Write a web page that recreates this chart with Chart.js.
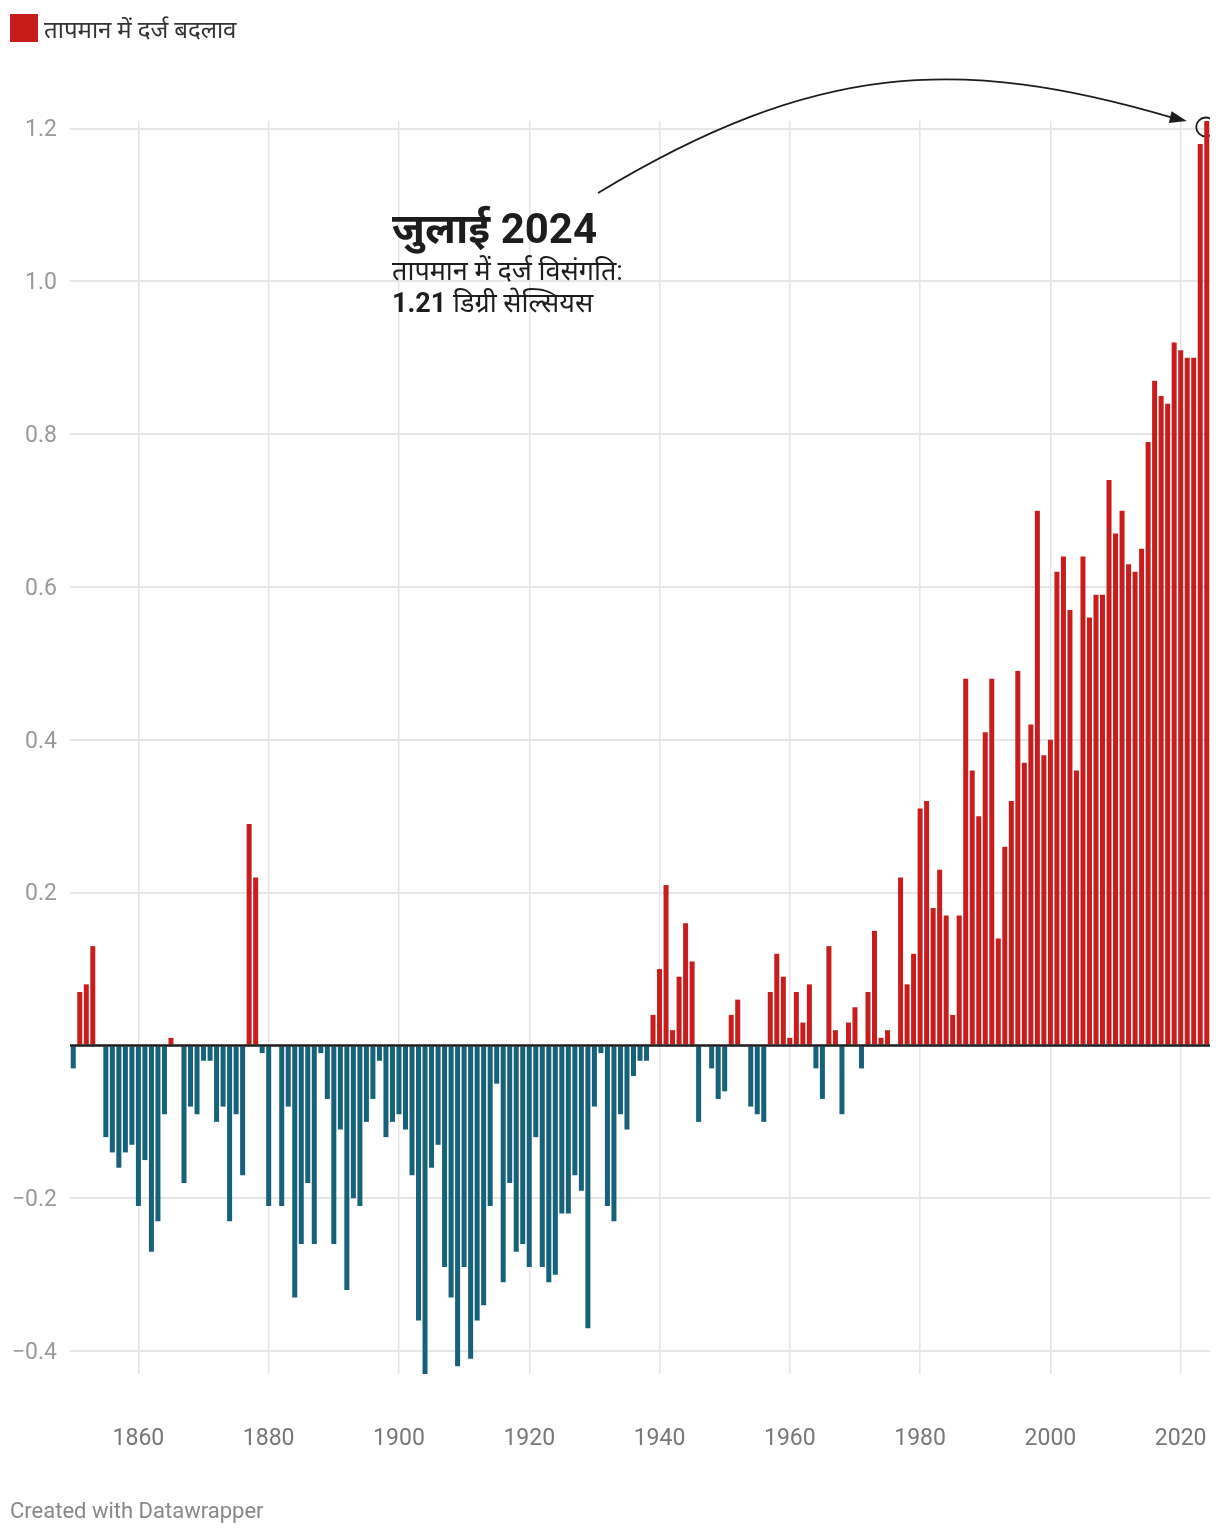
<!DOCTYPE html>
<html>
<head>
<meta charset="utf-8">
<script src="https://cdn.jsdelivr.net/npm/chart.js@4.4.1/dist/chart.umd.min.js"></script>
<style>
  html, body { margin: 0; padding: 0; background: #fff; }
  body {
    width: 1220px; height: 1536px; position: relative; overflow: hidden;
    font-family: Roboto, "Noto Sans", sans-serif;
  }
  #chart { position: absolute; left: 0; top: 0; }
  .legend { position: absolute; left: 10px; top: 14px; height: 28px; display: flex; align-items: center; font-size: 24px; color: #333; }
  .legend .swatch { width: 28px; height: 28px; background: #c71e1d; margin-right: 6px; }
  .note { position: absolute; left: 392px; color: #1d1d1d; white-space: nowrap; }
  .note.title { top: 208px; font-size: 42px; line-height: 42px; font-weight: 700; }
  .note.sub { font-size: 27px; line-height: 27px; }
  .footer { position: absolute; left: 10px; top: 1500px; font-size: 22px; line-height: 22px; color: #888; }
</style>
</head>
<body>
<canvas id="chart" width="1220" height="1536"></canvas>

<div class="legend"><span class="swatch"></span>तापमान में दर्ज बदलाव</div>
<div class="note title">जुलाई 2024</div>
<div class="note sub" style="top:258px">तापमान में दर्ज विसंगति:</div>
<div class="note sub" style="top:290px"><b>1.21</b> डिग्री सेल्सियस</div>
<div class="footer">Created with Datawrapper</div>

<script>
// July temperature anomaly (°C), one value per year starting 1850
const firstYear = 1850;
const anomalies = [
  -0.03, 0.07, 0.08, 0.13, 0, -0.12, -0.14, -0.16, -0.14, -0.13,      // 1850s
  -0.21, -0.15, -0.27, -0.23, -0.09, 0.01, 0, -0.18, -0.08, -0.09,     // 1860s
  -0.02, -0.02, -0.10, -0.08, -0.23, -0.09, -0.17, 0.29, 0.22, -0.01,  // 1870s
  -0.21, 0, -0.21, -0.08, -0.33, -0.26, -0.18, -0.26, -0.01, -0.07,    // 1880s
  -0.26, -0.11, -0.32, -0.20, -0.21, -0.10, -0.07, -0.02, -0.12, -0.10, // 1890s
  -0.09, -0.11, -0.17, -0.36, -0.43, -0.16, -0.13, -0.29, -0.33, -0.42, // 1900s
  -0.29, -0.41, -0.36, -0.34, -0.21, -0.05, -0.31, -0.18, -0.27, -0.26, // 1910s
  -0.29, -0.12, -0.29, -0.31, -0.30, -0.22, -0.22, -0.17, -0.19, -0.37, // 1920s
  -0.08, -0.01, -0.21, -0.23, -0.09, -0.11, -0.04, -0.02, -0.02, 0.04,  // 1930s
  0.10, 0.21, 0.02, 0.09, 0.16, 0.11, -0.10, 0, -0.03, -0.07,          // 1940s
  -0.06, 0.04, 0.06, 0, -0.08, -0.09, -0.10, 0.07, 0.12, 0.09,         // 1950s
  0.01, 0.07, 0.03, 0.08, -0.03, -0.07, 0.13, 0.02, -0.09, 0.03,       // 1960s
  0.05, -0.03, 0.07, 0.15, 0.01, 0.02, 0, 0.22, 0.08, 0.12,            // 1970s
  0.31, 0.32, 0.18, 0.23, 0.17, 0.04, 0.17, 0.48, 0.36, 0.30,          // 1980s
  0.41, 0.48, 0.14, 0.26, 0.32, 0.49, 0.37, 0.42, 0.70, 0.38,          // 1990s
  0.40, 0.62, 0.64, 0.57, 0.36, 0.64, 0.56, 0.59, 0.59, 0.74,          // 2000s
  0.67, 0.70, 0.63, 0.62, 0.65, 0.79, 0.87, 0.85, 0.84, 0.92,          // 2010s
  0.91, 0.90, 0.90, 1.18, 1.21                                         // 2020s
];
const years = anomalies.map((v, i) => firstYear + i);

const xTickYears = [1860, 1880, 1900, 1920, 1940, 1960, 1980, 2000, 2020];
const yTickValues = [-0.4, -0.2, 0.2, 0.4, 0.6, 0.8, 1.0, 1.2];

const warmColor = '#c71e1d';
const coolColor = '#17627b';

// zero line, arrow and highlight circle
const annotations = {
  id: 'annotations',
  beforeDatasetsDraw(chart) {
    const { ctx, chartArea, scales: { x, y } } = chart;
    const last = anomalies.length - 1;
    const cx = x.getPixelForValue(last) - 1;
    const cy = y.getPixelForValue(anomalies[last]) + 6;
    ctx.save();
    ctx.beginPath();
    ctx.rect(chartArea.left, 0, chartArea.right - chartArea.left, chartArea.bottom);
    ctx.clip();
    ctx.strokeStyle = '#1d1d1d';
    ctx.lineWidth = 1.8;
    ctx.beginPath();
    ctx.arc(cx, cy, 9.5, 0, Math.PI * 2);
    ctx.stroke();
    ctx.restore();
  },
  afterDatasetsDraw(chart) {
    const { ctx, chartArea, scales: { x, y } } = chart;
    const y0 = y.getPixelForValue(0);
    ctx.save();
    ctx.strokeStyle = '#1d1d1d';
    ctx.lineWidth = 2.5;
    ctx.beginPath();
    ctx.moveTo(chartArea.left, y0);
    ctx.lineTo(chartArea.right, y0);
    ctx.stroke();

    // curved arrow from the note to the last bar
    const last = anomalies.length - 1;
    const tip = { x: x.getPixelForValue(last) - 20, y: y.getPixelForValue(anomalies[last]) };
    const dir = { x: 0.973, y: 0.23 };
    const len = 17, half = 6;
    const base = { x: tip.x - dir.x * len, y: tip.y - dir.y * len };
    ctx.lineWidth = 1.8;
    ctx.beginPath();
    ctx.moveTo(598, 193);
    ctx.bezierCurveTo(815, 62, 960, 55, base.x + dir.x * 2, base.y + dir.y * 2);
    ctx.stroke();
    ctx.fillStyle = '#1d1d1d';
    ctx.beginPath();
    ctx.moveTo(tip.x, tip.y);
    ctx.lineTo(base.x - dir.y * half, base.y + dir.x * half);
    ctx.lineTo(base.x + dir.y * half, base.y - dir.x * half);
    ctx.closePath();
    ctx.fill();
    ctx.restore();
  }
};

new Chart(document.getElementById('chart'), {
  type: 'bar',
  data: {
    labels: years,
    datasets: [{
      data: anomalies,
      backgroundColor: ctx => (ctx.raw >= 0 ? warmColor : coolColor),
      borderWidth: 0,
      barPercentage: 0.77,
      categoryPercentage: 1
    }]
  },
  options: {
    responsive: false,
    animation: false,
    layout: { padding: { top: 121, right: 10, left: 0, bottom: 0 } },
    plugins: { legend: { display: false }, tooltip: { enabled: false } },
    scales: {
      x: {
        offset: true,
        border: { display: false },
        grid: {
          offset: false,
          drawTicks: true,
          tickLength: 51,
          tickColor: 'rgba(0,0,0,0)',
          lineWidth: 1.5,
          color: ctx => (ctx.tick && xTickYears.includes(years[ctx.index]) ? '#e5e5e5' : 'rgba(0,0,0,0)')
        },
        ticks: {
          autoSkip: false,
          maxRotation: 0,
          minRotation: 0,
          padding: 0,
          color: '#777',
          font: { family: 'Roboto', size: 23 },
          callback: (val, i) => (xTickYears.includes(years[i]) ? String(years[i]) : '')
        },
        afterFit: scale => { scale.height = 1536 - 1374; }
      },
      y: {
        min: Math.min(...anomalies),
        max: Math.max(...anomalies),
        border: { display: false },
        grid: {
          drawTicks: false,
          lineWidth: 2,
          color: ctx => (ctx.tick && ctx.tick.value === 0 ? 'rgba(0,0,0,0)' : '#e6e6e6')
        },
        ticks: {
          stepSize: 0.2,
          includeBounds: false,
          padding: 13,
          labelOffset: 2,
          color: '#9a9a9a',
          font: { family: 'Roboto', size: 23 },
          callback: v => {
            const hit = yTickValues.find(t => Math.abs(t - v) < 1e-6);
            if (hit === undefined) return '';
            return hit < 0 ? '\u2212' + Math.abs(hit).toFixed(1) : hit.toFixed(1);
          }
        },
        afterFit: scale => { scale.width = 70; }
      }
    }
  },
  plugins: [annotations]
});
</script>
</body>
</html>
